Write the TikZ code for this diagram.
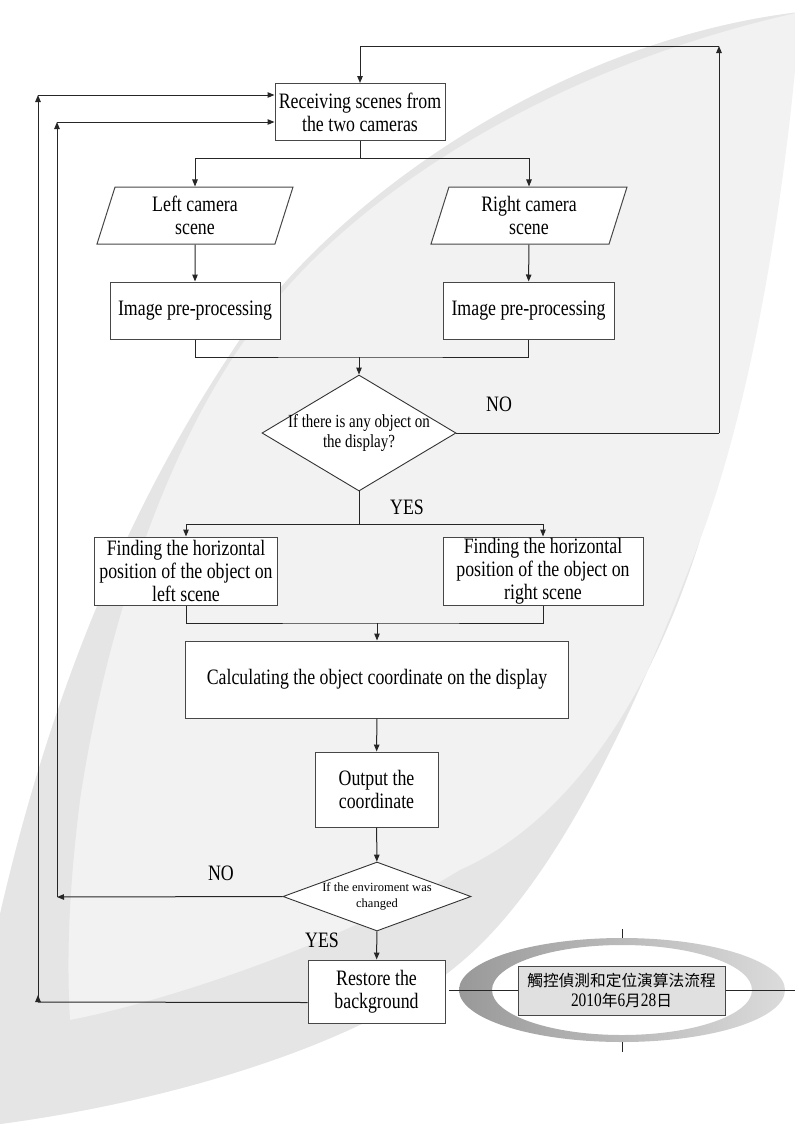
\documentclass[tikz,border=0pt]{standalone}
\usepackage{fontspec}
\setmainfont{Liberation Serif}[FakeStretch=0.81]
\newfontfamily\plainserif{Liberation Serif}
\newfontfamily\cjk{Noto Sans CJK TC}
\usetikzlibrary{shapes.geometric,arrows.meta,positioning}

\newcommand{\latdig}[1]{{\rmfamily\fontsize{19bp}{20bp}\selectfont #1}}

\tikzset{
	procbox/.style={draw=black!72, fill=white, line width=1bp, inner sep=0pt, align=center},
	iobox/.style={procbox, trapezium, trapezium left angle=65, trapezium right angle=115,
		trapezium stretches body, minimum width=196bp, minimum height=57bp},
	decision/.style={draw=black!80, fill=white, line width=0.9bp, diamond, inner sep=0pt, align=center},
	line/.style={draw=black!85, line width=1bp},
	flow/.style={line, -{Triangle[length=7bp,width=5.5bp]}},
	loopflow/.style={line, {Triangle[reversed,length=7bp,width=5.5bp]}-{Triangle[length=7bp,width=5.5bp]}},
	tag/.style={inner sep=0pt}
}

\begin{document}
\begin{tikzpicture}[x=1bp, y=-1bp, font=\fontsize{22bp}{23bp}\selectfont]
	\useasboundingbox (0,0) rectangle (795,1124);
	% background swoosh
	\fill[black!5] (800,12) .. controls (560,40) and (330,200) .. (233,350)
		.. controls (120,520) and (40,720) .. (-10,960) -- (-10,1130) -- (0,1124)
		.. controls (180,1100) and (370,1040) .. (460,963)
		.. controls (560,880) and (640,700) .. (700,540)
		.. controls (760,380) and (790,150) .. (800,12) -- cycle;
	\fill[black!10] (800,12) .. controls (560,40) and (330,200) .. (233,350)
		.. controls (120,520) and (40,720) .. (-10,960) -- (-10,1130) -- (0,1124)
		.. controls (180,1100) and (370,1040) .. (460,963)
		.. controls (560,880) and (640,700) .. (700,540)
		.. controls (640,730) and (550,830) .. (460,870)
		.. controls (330,950) and (150,1005) .. (70,1020)
		.. controls (66,950) and (70,880) .. (80,800)
		.. controls (110,600) and (180,420) .. (260,320)
		.. controls (350,200) and (540,70) .. (800,12) -- cycle;

	% flow chart
	\node[procbox, minimum width=170bp, minimum height=57bp] (recv) at (360,112) {Receiving scenes from\\the two cameras};
	\node[iobox] (lcam) at (195,215.5) {Left camera\\scene};
	\node[iobox] (rcam) at (529,215.5) {Right camera\\scene};
	\node[procbox, minimum width=170bp, minimum height=57bp] (lpre) at (195,310.5) {Image pre-processing};
	\node[procbox, minimum width=171bp, minimum height=57bp] (rpre) at (528.5,310.5) {Image pre-processing};
	\node[decision, minimum width=194bp, minimum height=116bp, shape aspect=1.67, inner xsep=-14bp,
		font=\fontsize{18.5bp}{20bp}\selectfont] (obj) at (359,433) {If there is any object on\\the display?};
	\node[procbox, minimum width=182bp, minimum height=68bp] (lfind) at (186,571) {Finding the horizontal\\position of the object on\\left scene};
	\node[procbox, minimum width=200bp, minimum height=68bp] (rfind) at (543,571) {Finding the horizontal\\position of the object on\\right scene};
	\node[procbox, minimum width=382bp, minimum height=77bp] (calc) at (377,679.5) {Calculating the object coordinate on the display};
	\node[procbox, minimum width=123bp, minimum height=75bp] (outc) at (376.5,789.5) {Output the\\coordinate};
	\node[decision, minimum width=188bp, minimum height=69bp, shape aspect=2.69, inner xsep=-10bp,
		font=\plainserif\fontsize{12.5bp}{16bp}\selectfont] (env) at (377,896.5) {If the enviroment was\\changed};
	\node[procbox, minimum width=137bp, minimum height=63bp] (rest) at (376.5,991.5) {Restore the\\background};

	\node[tag] (no1) at (499,404) {NO};
	\node[tag] (yes1) at (407,507) {YES};
	\node[tag] (no2) at (221,873) {NO};
	\node[tag] (yes2) at (322,940) {YES};

	\coordinate (fork1) at (360,158);
	\draw[line] (recv) -- (fork1);
	\draw[flow] (fork1) -| (lcam);
	\draw[flow] (fork1) -| (rcam);
	\draw[flow] (lcam) -- (lpre);
	\draw[flow] (rcam) -- (rpre);
	\coordinate (join1) at (359,357);
	\draw[line] (lpre) |- (join1) -| (rpre);
	\draw[flow] (join1) -- (obj);
	\coordinate (fork2) at (359,524);
	\draw[line] (obj) -- (fork2);
	\draw[flow] (fork2) -| (lfind);
	\draw[flow] (fork2) -| (rfind);
	\coordinate (join2) at (377,623);
	\draw[line] (lfind) |- (join2) -| (rfind);
	\draw[flow] (join2) -- (calc);
	\draw[flow] (calc) -- (outc);
	\draw[flow] (outc) -- (env);
	\draw[flow] (env) -- (rest);

	% NO on the first test: back to the top
	\coordinate (nor) at (719,433);
	\coordinate (top) at (719,46);
	\coordinate (topm) at (360,46);
	\draw[line] (obj.east) -- (nor);
	\draw[flow] (nor) -- (top);
	\draw[flow] (top) -- (topm) -- (recv);

	% NO on the second test
	\coordinate (in1) at (57,897);
	\coordinate (in2) at (57,122);
	\draw[flow] (env.west) -- (in1);
	\draw[flow] (in1) -- (in2);
	\draw[flow] (in2) -- (in2 -| recv.west);

	% after restoring
	\coordinate (out0) at ([yshift=-11bp]rest.west);
	\coordinate (out1) at (38,1002);
	\coordinate (out2) at (38,95);
	\draw[line] (out0) -- (out1);
	\draw[loopflow] (out1) -- (out2);
	\draw[flow] (out2) -- (out2 -| recv.west);

	% title mark
	\shade[even odd rule, left color=black!40, right color=black!14]
		(622,990) ellipse [x radius=163, y radius=52]
		(622,990) ellipse [x radius=130, y radius=45];
	\node[procbox, fill=black!12, minimum width=207bp, minimum height=49bp,
		font=\cjk\fontsize{15.7bp}{20bp}\selectfont] (logo) at (621.5,990.5)
		{觸控偵測和定位演算法流程\\\latdig{2010}年\latdig{6}月\latdig{28}日};
	\coordinate (lgl) at (449,990.5);
	\coordinate (lgr) at (795,990.5);
	\draw[line] (lgl) -- (logo);
	\draw[line] (logo) -- (lgr);
	\draw[line] (622,929) -- (622,938);
	\draw[line] (622,1042) -- (622,1052);
\end{tikzpicture}
\end{document}
